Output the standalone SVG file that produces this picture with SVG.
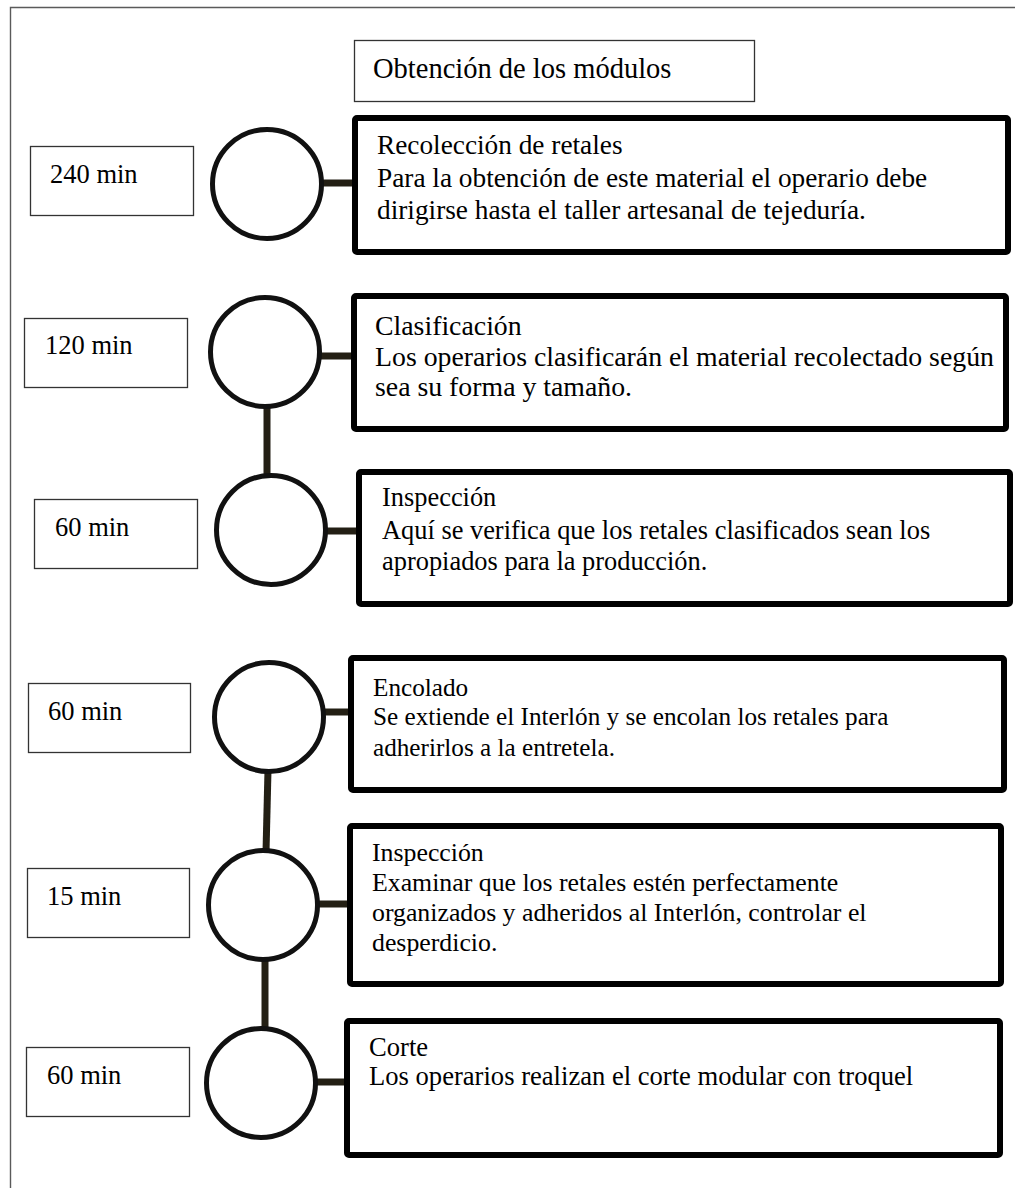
<svg xmlns="http://www.w3.org/2000/svg" width="1015" height="1188" viewBox="0 0 1015 1188">
  <style>
    .t { font-family: "Liberation Serif", "Times New Roman", serif; font-size: 26.5px; fill: #000; }
    .frame { stroke: #5a5a5a; stroke-width: 1.4; fill: none; }
    .time { fill: #fff; stroke: #333; stroke-width: 1.3; }
    .step { fill: #fff; stroke: #000; stroke-width: 6; }
    .op { fill: #fff; stroke: #111; stroke-width: 5; }
    .link { stroke: #231f14; stroke-width: 7; fill: none; }
    #title text { font-size: 28.5px; }
    #step1 .d { font-size: 27.3px; }
    #step2 .d { font-size: 27.8px; }
    #step3 .d { font-size: 26.4px; }
    #step4 .d { font-size: 25.2px; }
    #step5 .d { font-size: 25.8px; }
    #step6 .d { font-size: 26.6px; }
  </style>
  <rect width="1015" height="1188" fill="#fff"/>

  <!-- page frame (runs off the right and bottom edges) -->
  <path class="frame" d="M10.5 1188 V7.5 H1015"/>

  <!-- title -->
  <g id="title">
    <rect x="354.5" y="40.5" width="400" height="61" fill="#fff" stroke="#333" stroke-width="1.3"/>
    <text class="t" x="373" y="78">Obtención de los módulos</text>
  </g>

  <!-- connectors -->
  <g id="connectors">
    <line class="link" x1="322" y1="183" x2="354" y2="183"/>
    <line class="link" x1="320" y1="356" x2="353" y2="356"/>
    <line class="link" x1="326" y1="531" x2="358" y2="531"/>
    <line class="link" x1="324" y1="712" x2="350" y2="712"/>
    <line class="link" x1="318" y1="904" x2="349" y2="904"/>
    <line class="link" x1="316" y1="1082" x2="346" y2="1082"/>
    <line class="link" x1="267" y1="406" x2="267" y2="478"/>
    <line class="link" x1="268" y1="770" x2="266" y2="852"/>
    <line class="link" x1="265" y1="959" x2="265" y2="1030"/>
  </g>

  <!-- step 1 -->
  <g id="step1">
    <rect class="time" x="30.5" y="146.5" width="163" height="69"/>
    <text class="t" x="50" y="183">240 min</text>
    <circle class="op" cx="267" cy="184" r="54.5"/>
    <rect class="step" x="355" y="118" width="653" height="134" rx="2"/>
    <text class="t d" x="377" y="154">Recolección de retales</text>
    <text class="t d" x="377" y="187">Para la obtención de este material el operario debe</text>
    <text class="t d" x="377" y="219">dirigirse hasta el taller artesanal de tejeduría.</text>
  </g>

  <!-- step 2 -->
  <g id="step2">
    <rect class="time" x="24.5" y="318.5" width="163" height="69"/>
    <text class="t" x="45" y="354">120 min</text>
    <circle class="op" cx="265" cy="352" r="54.5"/>
    <rect class="step" x="354" y="296" width="652" height="133" rx="2"/>
    <text class="t d" x="375" y="335">Clasificación</text>
    <text class="t d" x="375" y="366">Los operarios clasificarán el material recolectado según</text>
    <text class="t d" x="375" y="396">sea su forma y tamaño.</text>
  </g>

  <!-- step 3 -->
  <g id="step3">
    <rect class="time" x="34.5" y="499.5" width="163" height="69"/>
    <text class="t" x="55" y="536">60 min</text>
    <circle class="op" cx="271" cy="530" r="54.5"/>
    <rect class="step" x="359" y="472" width="651" height="132" rx="2"/>
    <text class="t d" x="382" y="506">Inspección</text>
    <text class="t d" x="382" y="539">Aquí se verifica que los retales clasificados sean los</text>
    <text class="t d" x="382" y="570">apropiados para la producción.</text>
  </g>

  <!-- step 4 -->
  <g id="step4">
    <rect class="time" x="28.5" y="683.5" width="162" height="69"/>
    <text class="t" x="48" y="720">60 min</text>
    <circle class="op" cx="269" cy="717" r="54.5"/>
    <rect class="step" x="351" y="658" width="653" height="132" rx="2"/>
    <text class="t d" x="373" y="696">Encolado</text>
    <text class="t d" x="373" y="725">Se extiende el Interlón y se encolan los retales para</text>
    <text class="t d" x="373" y="756">adherirlos a la entretela.</text>
  </g>

  <!-- step 5 -->
  <g id="step5">
    <rect class="time" x="27.5" y="868.5" width="162" height="69"/>
    <text class="t" x="47" y="905">15 min</text>
    <circle class="op" cx="263" cy="905" r="54.5"/>
    <rect class="step" x="350" y="826" width="651" height="158" rx="2"/>
    <text class="t d" x="372" y="861">Inspección</text>
    <text class="t d" x="372" y="891">Examinar que los retales estén perfectamente</text>
    <text class="t d" x="372" y="921">organizados y adheridos al Interlón, controlar el</text>
    <text class="t d" x="372" y="951">desperdicio.</text>
  </g>

  <!-- step 6 -->
  <g id="step6">
    <rect class="time" x="26.5" y="1047.5" width="163" height="69"/>
    <text class="t" x="47" y="1084">60 min</text>
    <circle class="op" cx="261" cy="1083" r="54.5"/>
    <rect class="step" x="347" y="1021" width="653" height="134" rx="2"/>
    <text class="t d" x="369" y="1056">Corte</text>
    <text class="t d" x="369" y="1085">Los operarios realizan el corte modular con troquel</text>
  </g>
</svg>
